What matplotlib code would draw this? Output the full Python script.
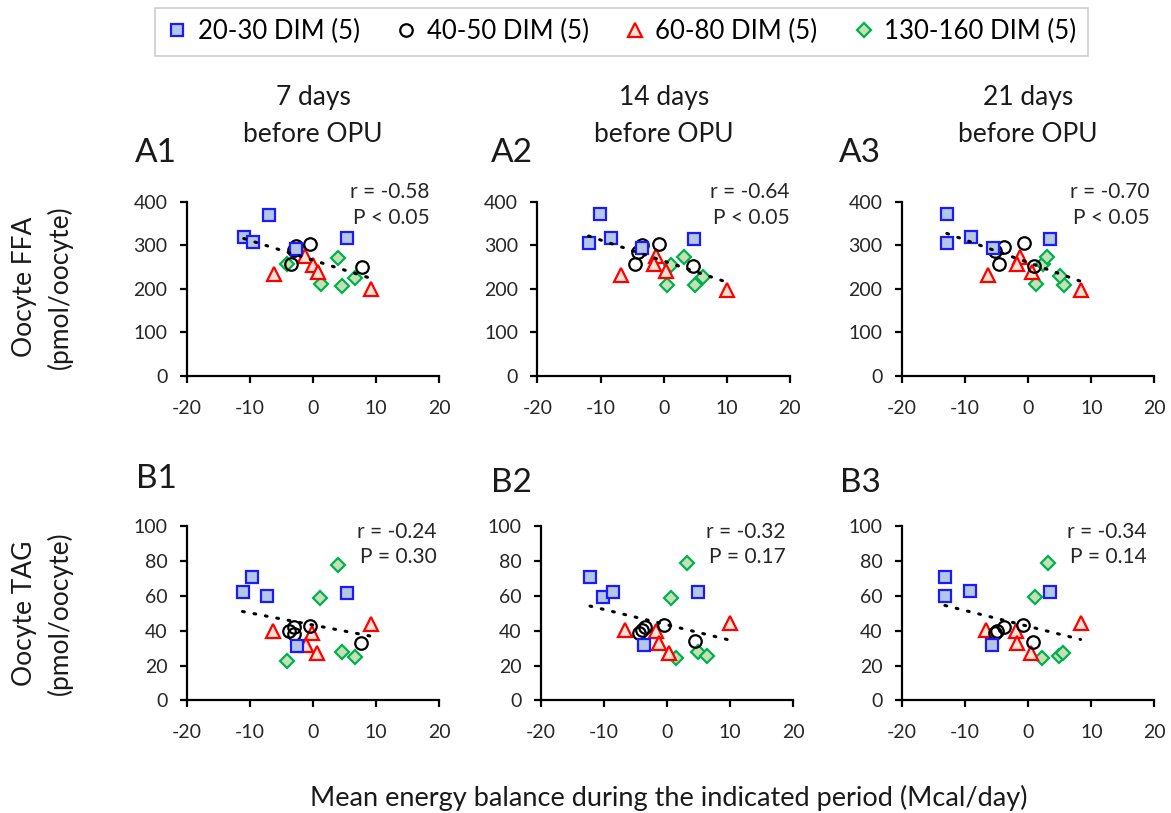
import numpy as np
import matplotlib
matplotlib.use("Agg")
import matplotlib.pyplot as plt
from matplotlib.lines import Line2D

plt.rcParams['font.family'] = ['Lato', 'DejaVu Sans']
plt.rcParams['axes.unicode_minus'] = False

groups = ["20-30 DIM (5)", "40-50 DIM (5)", "60-80 DIM (5)", "130-160 DIM (5)"]
periods = ["7 days\nbefore OPU", "14 days\nbefore OPU", "21 days\nbefore OPU"]

# energy balance (Mcal/day) per group, one list per period
eb = [
    [[-11.0, -9.5, -7.0, -2.7, 5.3],
     [-3.0, -2.7, -0.5, -3.5, 7.7],
     [-6.2, -1.3, -0.1, 0.8, 9.2],
     [-4.2, 4.0, 1.3, 4.5, 6.6]],
    [[-11.9, -10.1, -8.4, -3.5, 4.8],
     [-4.1, -3.5, -0.7, -4.6, 4.6],
     [-6.7, -1.2, -1.6, 0.3, 10.0],
     [1.2, 3.3, 0.6, 4.9, 6.2]],
    [[-12.9, -12.9, -9.1, -5.6, 3.5],
     [-5.3, -3.8, -4.7, -0.6, 0.9],
     [-6.3, -1.3, -1.8, 0.6, 8.3],
     [2.4, 3.0, 1.2, 5.7, 5.1]],
]

# oocyte FFA (pmol/oocyte), same order
ffa = [
    [[319, 308, 369, 291, 316],
     [289, 298, 304, 256, 251],
     [233, 275, 254, 238, 199],
     [256, 270, 211, 206, 226]],
    [[306, 371, 317, 293, 315],
     [285, 300, 304, 258, 252],
     [231, 275, 256, 241, 197],
     [254, 274, 210, 208, 228]],
    [[371, 306, 320, 293, 315],
     [287, 297, 258, 305, 253],
     [232, 274, 257, 239, 198],
     [257, 272, 211, 209, 229]],
]

# energy balance for the TAG panels
eb_tag = [
    [[-9.7, -11.2, -7.3, -2.6, 5.3],
     [-3.0, -3.8, -3.0, -0.5, 7.6],
     [-6.4, -0.2, -1.2, 0.6, 9.2],
     [4.0, 1.1, -4.2, 4.5, 6.7]],
    [[-12.2, -10.2, -8.6, -3.6, 4.9],
     [-3.5, -4.4, -3.9, -0.5, 4.5],
     [-6.7, -1.7, -1.2, 0.3, 10.0],
     [3.2, 0.7, 1.4, 5.0, 6.4]],
    [[-13.2, -13.2, -9.2, -5.7, 3.5],
     [-5.2, -4.9, -3.8, -0.9, 0.8],
     [-6.7, -2.0, -1.8, 0.5, 8.3],
     [3.1, 1.0, 2.2, 4.9, 5.5]],
]

# oocyte TAG (pmol/oocyte)
tag = [
    [[70.7, 62.5, 59.7, 31.0, 61.8],
     [42.4, 39.8, 37.9, 43.0, 32.9],
     [39.6, 38.6, 31.9, 27.2, 44.0],
     [77.8, 58.9, 22.9, 27.7, 24.9]],
    [[70.6, 59.6, 62.4, 32.1, 62.4],
     [42.1, 38.9, 40.6, 43.5, 34.0],
     [40.2, 39.8, 33.0, 27.3, 44.6],
     [78.6, 58.8, 24.1, 27.9, 25.6]],
    [[71.0, 60.0, 62.9, 31.8, 62.3],
     [38.7, 39.6, 41.9, 43.2, 33.7],
     [40.4, 39.6, 32.8, 27.0, 44.4],
     [79.0, 59.4, 24.2, 25.3, 27.2]],
]

r_ffa = [("r = -0.58", "P < 0.05"), ("r = -0.64", "P < 0.05"), ("r = -0.70", "P < 0.05")]
r_tag = [("r = -0.24", "P = 0.30"), ("r = -0.32", "P = 0.17"), ("r = -0.34", "P = 0.14")]

styles = [
    dict(marker='s', ms=9, mfc='#b4c7e7', mec='#1a1aff', zorder=6),
    dict(marker='o', ms=9, mfc='none', mec='black', zorder=5),
    dict(marker='^', ms=10, mfc='#fbe3d6', mec='#ff0000', zorder=4),
    dict(marker='D', ms=7.5, mfc='#c5e0b4', mec='#00b050', zorder=3),
]

fig = plt.figure(figsize=(11.71, 8.13), dpi=100)

lefts = [0.1597, 0.459, 0.7703]
w, h = 0.2155, 0.2144


def panel(ax, xs, ys, ymax, ystep, stats, sx, sy):
    allx, ally = [], []
    for gx, gy, st in zip(xs, ys, styles):
        ax.plot(gx, gy, ls='none', mew=1.6, **st)
        allx += gx
        ally += gy
    allx = np.array(allx)
    k, b = np.polyfit(allx, np.array(ally), 1)
    xx = np.array([allx.min(), allx.max()])
    ax.plot(xx, k * xx + b, color='black', lw=2.2, ls=(0, (0.6, 3.2)),
            dash_capstyle='round', zorder=7)
    ax.set_xlim(-20, 20)
    ax.set_ylim(0, ymax)
    ax.set_xticks([-20, -10, 0, 10, 20])
    ax.set_yticks(np.arange(0, ymax + 1, ystep))
    for s in ['top', 'right']:
        ax.spines[s].set_visible(False)
    for s in ['left', 'bottom']:
        ax.spines[s].set_linewidth(1.6)
    ax.tick_params(direction='out', length=5, width=1.6, labelsize=14,
                   labelcolor='#262626')
    ax.tick_params(axis='x', pad=12)
    ax.tick_params(axis='y', pad=9)
    for line, y in zip(stats, sy):
        ax.text(sx, y, line, transform=ax.transAxes, ha='right', va='center',
                fontsize=15, color='#262626')


stat_x_a = [0.96, 1.0, 0.98]
stat_x_b = [0.99, 0.97, 0.97]
letter_x = [156, 512, 860]

for i in range(3):
    axa = fig.add_axes([lefts[i], 0.5375, w, h])
    panel(axa, eb[i], ffa[i], 400, 100, r_ffa[i], stat_x_a[i], (1.057, 0.908))
    axb = fig.add_axes([lefts[i] + (0.0028 if i == 1 else 0), 0.1384, w, h])
    panel(axb, eb_tag[i], tag[i], 100, 20, r_tag[i], stat_x_b[i], (0.966, 0.823))

    cx = lefts[i] + w / 2
    fig.text(cx, 0.857, periods[i], ha='center', va='center', fontsize=19,
             linespacing=1.6, color='#1a1a1a')
    fig.text(letter_x[i] / 1171, 1 - 153 / 813, "A%d" % (i + 1), ha='center',
             va='center', fontsize=24, color='#1a1a1a')
    fig.text(letter_x[i] / 1171, 1 - (479 if i == 0 else 483) / 813,
             "B%d" % (i + 1), ha='center', va='center', fontsize=24,
             color='#1a1a1a')

fig.text(0.036, 0.647, "Oocyte FFA\n(pmol/oocyte)", rotation=90, ha='center',
         va='center', fontsize=19, linespacing=1.45, color='#1a1a1a')
fig.text(0.036, 0.246, "Oocyte TAG\n(pmol/oocyte)", rotation=90, ha='center',
         va='center', fontsize=19, linespacing=1.45, color='#1a1a1a')
fig.text(0.571, 7 / 813, "Mean energy balance during the indicated period (Mcal/day)",
         ha='center', va='baseline', fontsize=19.5, color='#1a1a1a')

handles = [Line2D([], [], ls='none', mew=1.6,
                  **{k: v for k, v in st.items() if k != 'zorder'})
           for st in styles]
leg = fig.legend(handles, groups, loc='center', bbox_to_anchor=(0.531, 0.961),
                 ncol=4, fontsize=18.5, frameon=True, fancybox=False,
                 handlelength=0.8, handletextpad=0.4, columnspacing=1.4,
                 borderpad=0.45)
leg.get_frame().set_edgecolor('#bfbfbf')
leg.get_frame().set_linewidth(1.2)

fig.savefig("out.png", dpi=100)
